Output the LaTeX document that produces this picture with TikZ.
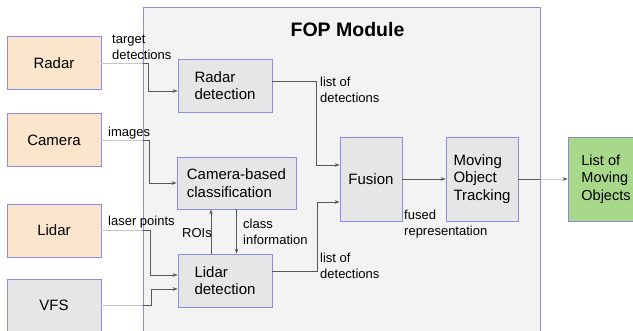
\documentclass[tikz,border=0pt]{standalone}
\usepackage{fontspec}
\setmainfont{Liberation Sans}
\usetikzlibrary{calc,arrows.meta}
\definecolor{frameblue}{RGB}{140,140,228}
\definecolor{modfill}{RGB}{243,243,243}
\definecolor{boxgray}{RGB}{230,230,230}
\definecolor{sensorpeach}{RGB}{252,229,205}
\definecolor{outgreen}{RGB}{168,216,138}
\definecolor{wiredark}{RGB}{88,88,88}
\definecolor{wirelight}{RGB}{200,200,200}
\tikzset{
  block/.style={draw=frameblue, line width=0.8pt, fill=boxgray, align=left, inner sep=0pt,
    font=\fontsize{15}{17.5}\selectfont},
  sensor/.style={block, fill=sensorpeach, minimum width=94, minimum height=53},
  lbl/.style={anchor=north west, inner sep=0pt, align=left, font=\fontsize{13}{15.5}\selectfont},
  wire/.style={line width=0.8pt, -{Stealth[length=5pt,width=3.5pt]}},
}
% all connectors, coloured by #1
\newcommand{\fopwires}[1]{%
  \draw[wire,#1] (radar.east) -- ++(47,0) |- ($(rdet.west)+(0,5.5)$);
  \draw[wire,#1] (camera.east) -- ++(48,0) |- (cbc.west);
  \draw[wire,#1] (lidar.east) -- ++(49,0) |- ($(ldet.west)+(0,-5.5)$);
  \draw[wire,#1] (vfs.east) -- ++(50,0) |- ($(ldet.west)+(0,8.5)$);
  \draw[wire,#1] (roi) -- (roi |- cbc.south);
  \draw[wire,#1] (cbc.south) -- (cbc.south |- ldet.north);
  \draw[wire,#1] ($(rdet.east)+(0,-4.5)$) -- ++(44,0) |- ($(fusion.west)+(0,-14)$);
  \draw[wire,#1] ($(ldet.east)+(0,-9.5)$) -- ++(45,0) |- ($(fusion.west)+(0,23)$);
  \draw[wire,#1] (fusion.east) -- (mot.west);
  \draw[wire,#1] (mot.east) -- (list.west);
}

\begin{document}
\begin{tikzpicture}[x=1pt,y=-1pt]
		%%%%% START %%%%%
		\useasboundingbox[fill=white] (0,0) rectangle (633,331);
		
		% module frame
		\node[draw=frameblue, line width=0.8pt, fill=modfill, minimum width=397, minimum height=340] (fop) at (341.5,177) {};
		\node[font=\bfseries\fontsize{19.5}{22}\selectfont] (title) at (347.5,29.5) {FOP Module};
		
		% sensors
		\node[sensor] (radar) at (54,63) {Radar};
		\node[sensor] (camera) at (54,140) {Camera};
		\node[sensor] (lidar) at (54,230.5) {Lidar};
		\node[sensor, fill=boxgray] (vfs) at (54,305.5) {VFS};
		
		% processing blocks
		\node[block, minimum width=94, minimum height=53] (rdet) at (225,85.5) {Radar\\detection};
		\node[block, minimum width=119, minimum height=52] (cbc) at (236.5,183) {Camera-based\\classification};
		\node[block, minimum width=94, minimum height=53] (ldet) at (225,280.5) {Lidar\\detection};
		\node[block, minimum width=62, minimum height=84] (fusion) at (371,179) {Fusion};
		\node[block, minimum width=72, minimum height=84] (mot) at (482,179) {Moving\\Object\\Tracking};
		\node[block, fill=outgreen, minimum width=76, minimum height=84, font=\fontsize{14.5}{17.5}\selectfont] (list) at (606,179) {List of\\Moving\\Objects};
		\coordinate (roi) at ($(ldet.north)+(-14,0)$);
		
		% connectors: light outside the module, dark inside
		\fopwires{wirelight}
		\begin{scope}
			\clip (fop.north west) rectangle (fop.south east);
			\fopwires{wiredark}
		\end{scope}
		\draw[wire, wiredark, shorten <=46pt] (mot.east) -- (list.west);
		
		% labels
		\node[lbl] (ltarget) at (112,35) {target\\detections};
		\node[lbl] (limages) at (108,127) {images};
		\node[lbl] (llaser) at (108,216) {laser points};
		\node[lbl] (lroi) at (182,228) {ROIs};
		\node[lbl] (lclass) at (243,219) {class\\information};
		\node[lbl] (lrlist) at (320,77) {list of\\detections};
		\node[lbl] (lllist) at (320,253) {list of\\detections};
		\node[lbl] (lfused) at (404,210) {fused\\representation};
		
		%%%%% END %%%%%
	\end{tikzpicture}
\end{document}
